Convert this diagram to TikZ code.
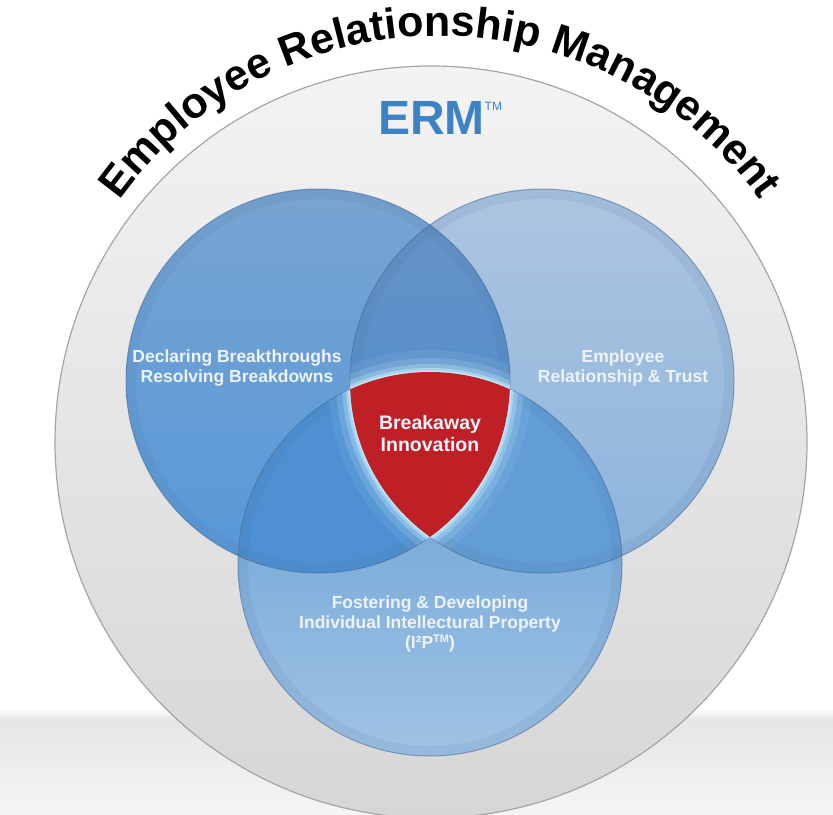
\documentclass[tikz,border=0pt]{standalone}
\usepackage{fontspec}
\setmainfont{Liberation Sans}
\usepackage{xcolor}
\usepackage{tikz}
\usetikzlibrary{calc, decorations.text}

\definecolor{floor}{RGB}{230,230,230}
\definecolor{diskTop}{RGB}{243,243,243}
\definecolor{diskBot}{RGB}{214,214,214}
\definecolor{ringgray}{RGB}{165,165,165}
\definecolor{ermblue}{RGB}{62,130,198}
\definecolor{leftTop}{RGB}{120,164,210}
\definecolor{leftBot}{RGB}{86,152,216}
\definecolor{rightTop}{RGB}{172,197,224}
\definecolor{rightBot}{RGB}{140,180,220}
\definecolor{botTop}{RGB}{98,156,212}
\definecolor{botBot}{RGB}{160,195,228}
\definecolor{lensTop}{RGB}{105,148,198}
\definecolor{lensBot}{RGB}{70,138,206}
\definecolor{lensLB}{RGB}{78,144,210}
\definecolor{lensRB}{RGB}{98,157,214}
\definecolor{rimblue}{RGB}{70,105,150}
\definecolor{glow}{RGB}{205,243,255}
\definecolor{core}{RGB}{190,32,38}
\definecolor{labelwhite}{RGB}{238,243,250}

\newcommand{\titlesize}{\fontsize{21.5pt}{21.5pt}\selectfont\bfseries}

\tikzset{
  rim/.style={draw=rimblue, line width=0.5pt, draw opacity=0.55},
  glowline/.style={draw=glow, line cap=round},
  lbl/.style={text=labelwhite, font=\bfseries\fontsize{8.75pt}{10pt}\selectfont, align=center},
}

\begin{document}
\begin{tikzpicture}[x=0.5pt, y=0.5pt]
  \clip (0,0) rectangle (833,814);

  % centres
  \coordinate (G) at (431,372);
  \coordinate (T) at (440,384);
  \coordinate (L) at (318,433);
  \coordinate (R) at (542,433);
  \coordinate (B) at (430,250);
  \def\rv{192}

  % floor and outer disc
  \shade[top color=white, bottom color=floor] (0,94) rectangle (833,106);
  \shade[top color=floor, bottom color=white!60!floor] (0,0) rectangle (833,94);
  \shade[top color=diskTop, bottom color=diskBot, draw=ringgray, line width=0.6pt] (G) circle (376);

  % the three circles
  \shade[top color=rightTop, bottom color=rightBot] (R) circle (\rv);
  \shade[top color=leftTop, bottom color=leftBot] (L) circle (\rv);
  \shade[top color=botTop, bottom color=botBot] (B) circle (\rv);

  % overlaps
  \begin{scope}
    \clip (L) circle (\rv);
    \shade[top color=lensTop, bottom color=lensBot] (R) circle (\rv);
    \fill[lensLB] (B) circle (\rv);
  \end{scope}
  \begin{scope}
    \clip (R) circle (\rv);
    \fill[lensRB] (B) circle (\rv);
  \end{scope}

  % rims and outlines
  \foreach \c in {L,R,B} {
    \begin{scope}
      \clip (\c) circle (\rv);
      \draw[rimblue, opacity=0.1, line width=10pt] (\c) circle (\rv);
    \end{scope}
    \draw[rim] (\c) circle (\rv);
  }

  % glow round the centre
  \foreach \w/\o in {22pt/0.08, 14pt/0.16, 8pt/0.28, 4pt/0.45, 1.5pt/0.7} {
    \begin{scope}
      \clip (L) circle (\rv);
      \clip (R) circle (\rv);
      \draw[glowline, line width=\w, opacity=\o] (B) circle (\rv);
    \end{scope}
    \begin{scope}
      \clip (L) circle (\rv);
      \clip (B) circle (\rv);
      \draw[glowline, line width=\w, opacity=\o] (R) circle (\rv);
    \end{scope}
    \begin{scope}
      \clip (R) circle (\rv);
      \clip (B) circle (\rv);
      \draw[glowline, line width=\w, opacity=\o] (L) circle (\rv);
    \end{scope}
  }

  % centre
  \begin{scope}
    \clip (L) circle (\rv);
    \clip (R) circle (\rv);
    \fill[core] (B) circle (\rv);
  \end{scope}

  % title round the top
  \path[decorate, decoration={text along path, text align=center,
      text={|\titlesize|Employee Relationship Management}}]
    (T) ++(153:394) arc[start angle=153, end angle=27, radius=394];

  \node[anchor=base, text=ermblue, font=\bfseries\fontsize{24pt}{24pt}\selectfont] (erm) at (440,679)
    {ERM\raisebox{12pt}{\fontsize{6pt}{6pt}\selectfont\mdseries TM}};

  \node[lbl] (declare) at (237,446) {Declaring Breakthroughs\\Resolving Breakdowns};
  \node[lbl] (trust) at (623,446) {Employee\\Relationship \& Trust};
  \node[lbl, font=\bfseries\fontsize{9.75pt}{11pt}\selectfont] (innov) at (430,380) {Breakaway\\Innovation};
  \node[lbl] (foster) at (430,190) {Fostering \& Developing\\Individual Intellectural Property\\(I²P\raisebox{0.7ex}{\fontsize{5.5pt}{5.5pt}\selectfont TM})};
\end{tikzpicture}
\end{document}
